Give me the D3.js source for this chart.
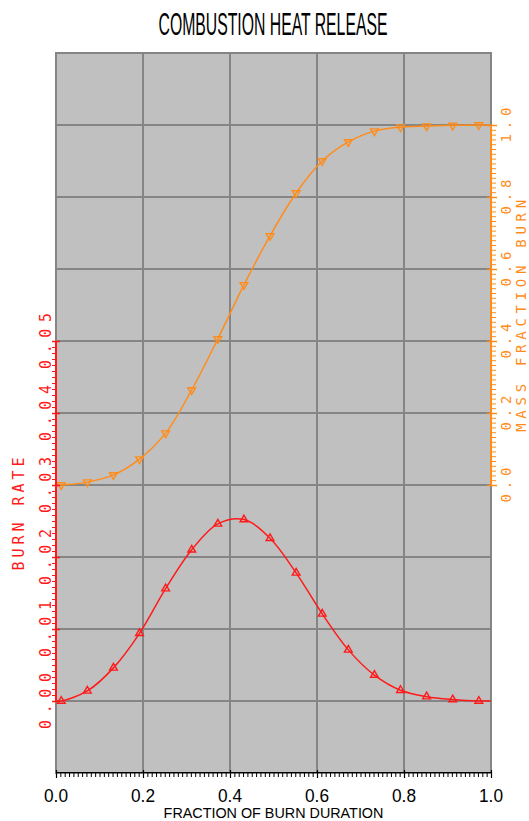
<!DOCTYPE html>
<html>
<head>
<meta charset="utf-8">
<script src="https://cdn.jsdelivr.net/npm/d3@7"></script>
<style>
  html, body { margin: 0; padding: 0; background: #ffffff; }
  svg { display: block; }
</style>
</head>
<body>
<div id="chart"></div>
<script>
// Fraction of burn duration at each sampled point (first and last close the curves)
const fraction = [0.000, 0.012, 0.072, 0.132, 0.192, 0.252, 0.312, 0.372, 0.432, 0.492,
                  0.552, 0.612, 0.672, 0.732, 0.792, 0.852, 0.912, 0.972, 1.000];
// Burn rate (left axis)
const burnRate = [0.0000, 0.0000, 0.0014, 0.0046, 0.0094, 0.0156, 0.0210, 0.0246, 0.0252, 0.0226,
                  0.0178, 0.0121, 0.0071, 0.0036, 0.0015, 0.0006, 0.0002, 0.0000, 0.0000];
// Mass fraction burned (right axis)
const massBurned = [0.000, 0.000, 0.008, 0.028, 0.072, 0.144, 0.264, 0.406, 0.556, 0.692,
                    0.811, 0.900, 0.953, 0.983, 0.994, 0.997, 0.999, 1.000, 1.000];

const xTickValues = [0.0, 0.2, 0.4, 0.6, 0.8, 1.0];
const xTickLabels = ["0.0", "0.2", "0.4", "0.6", "0.8", "1.0"];
const rateTickValues = [0.00, 0.01, 0.02, 0.03, 0.04, 0.05];
const rateTickLabels = ["0.00", "0.01", "0.02", "0.03", "0.04", "0.05"];
const massTickValues = [0.0, 0.2, 0.4, 0.6, 0.8, 1.0];
const massTickLabels = ["0.0", "0.2", "0.4", "0.6", "0.8", "1.0"];

const titleText = "COMBUSTION HEAT RELEASE";
const xTitle = "FRACTION OF BURN DURATION";
const rateTitle = "BURN RATE";
const massTitle = "MASS FRACTION BURN";

const W = 529, H = 821;
const plot = { left: 56, right: 491, top: 53, bottom: 773 };
const RED = "#ff1a1a";
const ORANGE = "#ff8c1a";
const SANS = "'Liberation Sans', 'DejaVu Sans', sans-serif";
const MONO = "'DejaVu Sans Mono', 'Liberation Mono', monospace";

const svg = d3.select("#chart").append("svg")
  .attr("width", W).attr("height", H);

// Condensed text: draw at natural width, then squeeze horizontally to a target width
function condensed(parent, str, cx, baseline, size, width) {
  const g = parent.append("g");
  const t = g.append("text")
    .attr("text-anchor", "middle")
    .attr("font-family", SANS).attr("font-size", size)
    .attr("fill", "#000")
    .text(str);
  const natural = t.node().getComputedTextLength();
  const sx = width / natural;
  g.attr("transform", `translate(${cx},${baseline}) scale(${sx},1)`);
  return g;
}

const x = d3.scaleLinear().domain([0, 1]).range([plot.left, plot.right]);
// Both vertical scales share the plot frame; the mass scale sets the grid
const yMass = d3.scaleLinear().domain([-0.8, 1.2]).range([plot.bottom, plot.top]);
const yRate = d3.scaleLinear().domain([-0.01, 0.09]).range([plot.bottom, plot.top]);

// Plot background
svg.append("rect")
  .attr("x", plot.left).attr("y", plot.top)
  .attr("width", plot.right - plot.left).attr("height", plot.bottom - plot.top)
  .attr("fill", "#c0c0c0");

// Grid
const gridRows = [-0.6, -0.4, -0.2, 0.0, 0.2, 0.4, 0.6, 0.8, 1.0];
const gridCols = [0.2, 0.4, 0.6, 0.8];
const grid = svg.append("g").attr("stroke", "#858585").attr("stroke-width", 2);
grid.selectAll("line.h")
  .data(gridRows)
  .join("line").attr("class", "h")
  .attr("x1", plot.left).attr("x2", plot.right)
  .attr("y1", d => yMass(d)).attr("y2", d => yMass(d));
grid.selectAll("line.v")
  .data(gridCols)
  .join("line").attr("class", "v")
  .attr("y1", plot.top).attr("y2", plot.bottom)
  .attr("x1", d => x(d)).attr("x2", d => x(d));

// Frame
svg.append("rect")
  .attr("x", plot.left).attr("y", plot.top)
  .attr("width", plot.right - plot.left).attr("height", plot.bottom - plot.top)
  .attr("fill", "none").attr("stroke", "#858585").attr("stroke-width", 2);

// Curves
const rows = fraction.map((f, i) => ({ f, rate: burnRate[i], mass: massBurned[i] }));
const rateLine = d3.line().x(d => x(d.f)).y(d => yRate(d.rate)).curve(d3.curveCatmullRom.alpha(0.5));
const massLine = d3.line().x(d => x(d.f)).y(d => yMass(d.mass)).curve(d3.curveCatmullRom.alpha(0.5));

svg.append("path").datum(rows).attr("d", massLine)
  .attr("fill", "none").attr("stroke", ORANGE).attr("stroke-width", 1.5);
svg.append("path").datum(rows).attr("d", rateLine)
  .attr("fill", "none").attr("stroke", RED).attr("stroke-width", 1.5);

// Markers at the interior sample points
const markerRows = rows.filter(d => d.f > 0.005 && d.f < 0.995);
const tri = d3.symbol().type(d3.symbolTriangle).size(26);
svg.append("g").selectAll("path")
  .data(markerRows).join("path")
  .attr("d", tri)
  .attr("transform", d => `translate(${x(d.f)},${yMass(d.mass)}) rotate(180)`)
  .attr("fill", "none").attr("stroke", ORANGE).attr("stroke-width", 1.4);
svg.append("g").selectAll("path")
  .data(markerRows).join("path")
  .attr("d", tri)
  .attr("transform", d => `translate(${x(d.f)},${yRate(d.rate)})`)
  .attr("fill", "none").attr("stroke", RED).attr("stroke-width", 1.4);

// Bottom axis
const xMinor = d3.range(0, 101).map(k => k / 100);
const xAxisG = svg.append("g").attr("transform", `translate(0,${plot.bottom - 1})`);
xAxisG.call(d3.axisBottom(x).tickValues(xMinor).tickSize(5).tickSizeOuter(0).tickFormat(""));
xAxisG.select(".domain").attr("stroke", "#000").attr("stroke-width", 1.2);
xAxisG.selectAll(".tick line").attr("stroke", "#000");
const xMajorG = svg.append("g").attr("transform", `translate(0,${plot.bottom - 3})`);
xMajorG.call(d3.axisBottom(x).tickValues(xTickValues).tickSize(8).tickSizeOuter(0).tickFormat(""));
xMajorG.select(".domain").remove();
xMajorG.selectAll(".tick line").attr("stroke", "#000").attr("stroke-width", 1.2);

const xLabels = svg.append("g");
xTickValues.forEach((v, i) => condensed(xLabels, xTickLabels[i], x(v), 802, 19, 24));

condensed(svg, xTitle, (plot.left + plot.right) / 2, 818, 15, 220);

// Title
condensed(svg, titleText, 273, 35, 31, 229);

// Left axis: burn rate
const rateMinor = d3.range(0, 61).map(k => k * 0.05 / 60);
const rateG = svg.append("g").attr("transform", `translate(${plot.left},0)`);
rateG.call(d3.axisLeft(yRate).tickValues(rateMinor).tickSize(4).tickSizeOuter(0).tickFormat(""));
rateG.select(".domain").attr("stroke", RED).attr("stroke-width", 2)
  .attr("d", `M0,${yRate(0)}V${yRate(0.05)}`);
rateG.selectAll(".tick line").attr("stroke", RED);
const rateMajorG = svg.append("g").attr("transform", `translate(${plot.left + 4},0)`);
rateMajorG.call(d3.axisLeft(yRate).tickValues(rateTickValues).tickSize(8).tickSizeOuter(0).tickFormat(""));
rateMajorG.select(".domain").remove();
rateMajorG.selectAll(".tick line").attr("stroke", RED).attr("stroke-width", 1.5);

svg.append("g").selectAll("text")
  .data(rateTickValues).join("text")
  .attr("transform", d => `translate(51,${yRate(d)}) rotate(-90)`)
  .attr("text-anchor", "middle")
  .attr("font-family", MONO).attr("font-size", 15)
  .attr("textLength", 56).attr("lengthAdjust", "spacing")
  .attr("fill", RED)
  .text((d, i) => rateTickLabels[i]);

svg.append("text")
  .attr("transform", `translate(24,${yRate(0.025) - 7}) rotate(-90)`)
  .attr("text-anchor", "middle")
  .attr("font-family", MONO).attr("font-size", 15)
  .attr("textLength", 113).attr("lengthAdjust", "spacing")
  .attr("fill", RED)
  .text(rateTitle);

// Right axis: mass fraction burned
const massMinor = d3.range(0, 76).map(k => k / 75);
const massG = svg.append("g").attr("transform", `translate(${plot.right},0)`);
massG.call(d3.axisRight(yMass).tickValues(massMinor).tickSize(5).tickSizeOuter(0).tickFormat(""));
massG.select(".domain").attr("stroke", ORANGE).attr("stroke-width", 2)
  .attr("d", `M0,${yMass(0)}V${yMass(1)}`);
massG.selectAll(".tick line").attr("stroke", ORANGE);
const massMajorG = svg.append("g").attr("transform", `translate(${plot.right - 4},0)`);
massMajorG.call(d3.axisRight(yMass).tickValues(massTickValues).tickSize(10).tickSizeOuter(0).tickFormat(""));
massMajorG.select(".domain").remove();
massMajorG.selectAll(".tick line").attr("stroke", ORANGE).attr("stroke-width", 1.5);

svg.append("g").selectAll("text")
  .data(massTickValues).join("text")
  .attr("transform", d => `translate(511,${yMass(d)}) rotate(-90)`)
  .attr("text-anchor", "middle")
  .attr("font-family", MONO).attr("font-size", 14)
  .attr("textLength", 35).attr("lengthAdjust", "spacing")
  .attr("fill", ORANGE)
  .text((d, i) => massTickLabels[i]);

svg.append("text")
  .attr("transform", `translate(526,${yMass(0.47)}) rotate(-90)`)
  .attr("text-anchor", "middle")
  .attr("font-family", MONO).attr("font-size", 14)
  .attr("textLength", 232).attr("lengthAdjust", "spacing")
  .attr("fill", ORANGE)
  .text(massTitle);
</script>
</body>
</html>
